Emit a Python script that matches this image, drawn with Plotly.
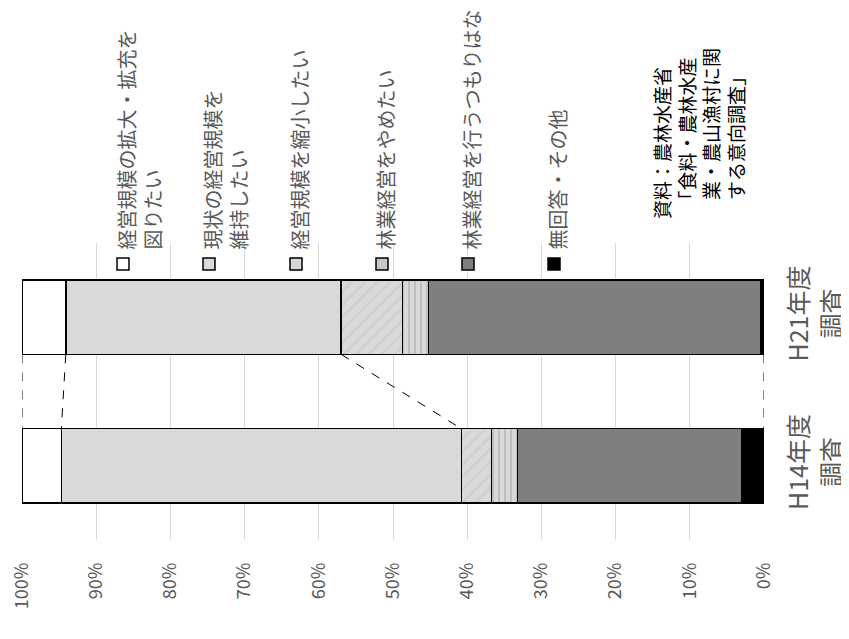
import plotly.graph_objects as go

categories = ["H14年度<br>調査", "H21年度<br>調査"]
series_names = [
    "無回答・その他",
    "林業経営を行うつもりはない",
    "林業経営をやめたい",
    "経営規模を縮小したい",
    "現状の経営規模を<br>維持したい",
    "経営規模の拡大・拡充を<br>図りたい",
]
# values per series: [H14, H21] (%)
v_none = [3.0, 0.4]
v_no_intent = [30.2, 44.8]
v_quit = [3.5, 3.5]
v_shrink = [4.1, 8.3]
v_keep = [53.9, 37.1]
v_expand = [5.3, 5.9]
series_values = [v_none, v_no_intent, v_quit, v_shrink, v_keep, v_expand]
tick_values = list(range(0, 101, 10))
tick_labels = [f"{v}%" for v in tick_values]
source_text = "資料：農林水産省<br>　「食料・農林水産<br>　業・農山漁村に関<br>　する意向調査」"

styles = [
    dict(color="#000000"),
    dict(color="#7f7f7f"),
    dict(color="#d9d9d9", pattern=dict(shape="|", fgcolor="#a6a6a6", bgcolor="#d9d9d9", size=6, solidity=0.35)),
    dict(color="#d9d9d9", pattern=dict(shape="/", fgcolor="#c4c4c4", bgcolor="#d9d9d9", size=9, solidity=0.25)),
    dict(color="#d9d9d9"),
    dict(color="#ffffff"),
]

ypos = list(range(len(categories)))
fig = go.Figure()
for name, vals, st in zip(series_names, series_values, styles):
    m = dict(line=dict(color="#000000", width=1.5), **st)
    fig.add_trace(go.Bar(x=vals, y=ypos, orientation="h", width=0.5, name=name,
                         marker=m, showlegend=False))

# connector (series) lines between bars
def cum(upto):
    return [sum(s[i] for s in series_values[:upto]) for i in range(len(categories))]

half = 0.25
for k in [0, 4, 5, 6]:
    c = cum(k)
    fig.add_trace(go.Scatter(x=[c[1], c[0]], y=[ypos[1] - half, ypos[0] + half], mode="lines",
                             line=dict(color="#000000", width=1, dash="dash"),
                             showlegend=False, hoverinfo="skip", cliponaxis=False))

gray = "#595959"
font = "Noto Sans CJK JP"
# page body offset of 8px is compensated
L, T, PW, PH = 14, 235, 742, 297
FW, FH = 841, 631
fig.update_layout(
    width=FW, height=FH,
    margin=dict(l=L, r=FW - L - PW, t=T, b=FH - T - PH),
    paper_bgcolor="white", plot_bgcolor="white",
    barmode="stack",
    font=dict(family=font, color=gray),
    xaxis=dict(range=[100, 0], tickmode="array", tickvals=tick_values, ticktext=tick_labels,
               tickangle=-90, automargin=False, ticklabeloverflow="allow",
               showgrid=True, gridcolor="#d9d9d9", gridwidth=1, zeroline=False,
               tickfont=dict(size=18, color=gray), ticklabelstandoff=18, showline=False),
    yaxis=dict(range=[-0.5, 1.5], tickmode="array", tickvals=ypos, ticktext=categories, side="right",
               tickangle=-90, showgrid=False, zeroline=False, automargin=False,
               ticklabeloverflow="allow",
               tickfont=dict(size=25, color=gray), ticklabelstandoff=18),
)

# legend drawn as rotated texts with icons (positions in reference pixels)
def px(xp):
    return (xp - 22) / PW
def py(yp):
    return (540 - yp) / PH

legend_x = [123, 209, 296, 382, 468, 554]
icon_fill = ["#ffffff", "#d9d9d9", "#d9d9d9", "#c8c8c8", "#7f7f7f", "#000000"]
leg_names = series_names[::-1]
for xc, nm, fc in zip(legend_x, leg_names, icon_fill):
    fig.add_shape(type="rect", xref="paper", yref="paper",
                  x0=px(xc - 6), x1=px(xc + 6), y0=py(270), y1=py(258),
                  fillcolor=fc, line=dict(color="#000000", width=1.5))
    fig.add_annotation(text=nm, xref="paper", yref="paper", x=px(xc - 14), y=py(252),
                       xanchor="left", yanchor="bottom", textangle=-90, align="left",
                       showarrow=False, font=dict(size=20, color=gray, family=font))

fig.add_annotation(text=source_text, xref="paper", yref="paper", x=px(646), y=py(221),
                   xanchor="left", yanchor="bottom", textangle=-90, align="left",
                   showarrow=False, font=dict(size=19, color="#000000", family=font))

fig.write_html("out.html")
